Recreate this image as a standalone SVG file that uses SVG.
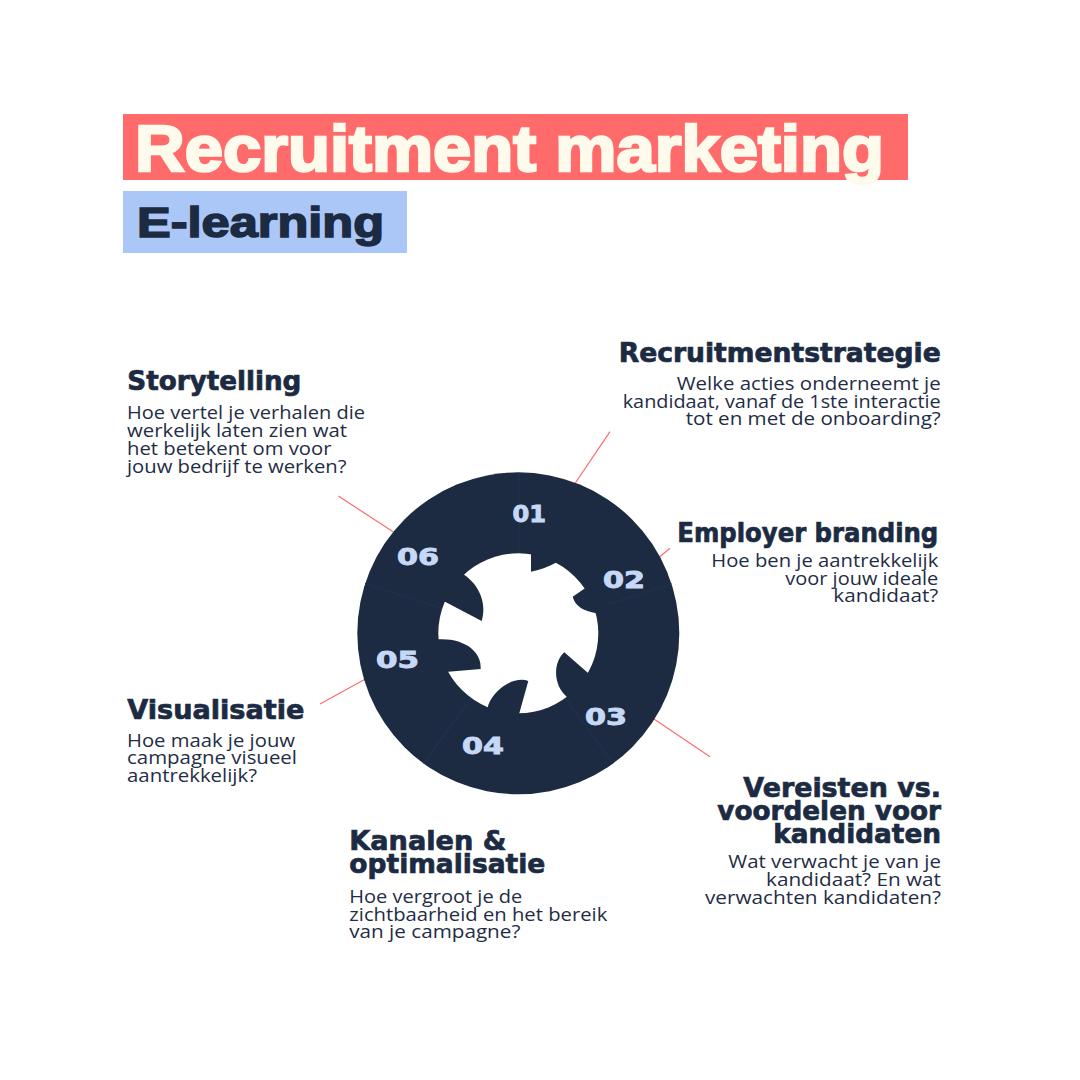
<svg xmlns="http://www.w3.org/2000/svg" width="1080" height="1080" viewBox="0 0 1080 1080">
<style>
.title{font-family:"Liberation Sans",Arial,sans-serif;font-weight:bold;}
.head{font-family:"DejaVu Sans",sans-serif;font-weight:bold;font-size:26px;fill:#1c2b42;stroke:#1c2b42;stroke-width:0.7px;}
.body{font-family:"Open Sans","Noto Sans",sans-serif;font-weight:400;font-size:17.5px;fill:#1f2d45;}
.num{font-family:"DejaVu Sans",sans-serif;font-weight:bold;font-size:23px;fill:#c6d8f6;stroke:#c6d8f6;stroke-width:0.9px;text-anchor:middle;}
.conn{stroke:#ff6b6b;stroke-width:1.2;fill:none;}
.div{stroke:#222f48;stroke-width:1.5;}
.end{text-anchor:end;}
</style>
<rect width="1080" height="1080" fill="#ffffff"/>

<g id="title">
<rect x="123" y="114" width="785" height="66" fill="#ff6b6b"/>
<text class="title" x="135" y="171" font-size="65" fill="#fffbec" stroke="#fffbec" stroke-width="2.6" textLength="749" lengthAdjust="spacingAndGlyphs">Recruitment marketing</text>
</g>
<g id="subtitle">
<rect x="123" y="191" width="284" height="62" fill="#abc7f7"/>
<text class="title" x="137" y="237" font-size="43" fill="#1c2b42" stroke="#1c2b42" stroke-width="1.6" textLength="247" lengthAdjust="spacingAndGlyphs">E-learning</text>
</g>

<g id="connectors">
<line class="conn" x1="610" y1="431.7" x2="575" y2="483.5"/>
<line class="conn" x1="670" y1="548.3" x2="659.5" y2="557"/>
<line class="conn" x1="654" y1="719" x2="710" y2="756.7"/>
<line class="conn" x1="320" y1="704" x2="364.5" y2="679.5"/>
<line class="conn" x1="338.3" y1="496" x2="393" y2="531.7"/>
</g>

<g id="wheel">
<circle cx="518.3" cy="633.3" r="161" fill="#1c2b42"/>
<g class="div">
<line x1="519" y1="473" x2="519" y2="553.3"/>
<line x1="594.4" y1="608.6" x2="671.5" y2="583.6"/>
<line x1="565.3" y1="698" x2="612.9" y2="763.5"/>
<line x1="471.3" y1="698" x2="423.7" y2="763.5"/>
<line x1="442.2" y1="608.6" x2="365.1" y2="583.6"/>
</g>
<circle cx="518.3" cy="633.3" r="80" fill="#ffffff"/>
<g fill="#1c2b42">
<path d="M531,545 L531,571.7 Q545,569 556.7,562.3 L560,548 Z"/>
<path d="M585,588.3 L572.7,596.7 Q576,610 596.7,613.3 L610,610 L600,585 Z"/>
<path d="M588.3,673.3 L564.3,652.3 C553,662 553,685 566.7,696.7 L575,705 L600,680 Z"/>
<path d="M519.3,713.3 L528.3,681 C515,676 495,688 488.3,705 L485,720 L520,725 Z"/>
<path d="M448.3,671.7 L480.7,669 C482,652 465,638 438.3,639.3 L425,640 L435,680 Z"/>
<path d="M445,601.7 L481.7,621 C487,605 480,585 463.3,574.3 L455,565 L430,595 Z"/>
</g>
<text class="num" x="529.3" y="521.7" textLength="33.5" lengthAdjust="spacingAndGlyphs">01</text>
<text class="num" x="624" y="588" textLength="42" lengthAdjust="spacingAndGlyphs">02</text>
<text class="num" x="606" y="725" textLength="42" lengthAdjust="spacingAndGlyphs">03</text>
<text class="num" x="483" y="754" textLength="42" lengthAdjust="spacingAndGlyphs">04</text>
<text class="num" x="397.5" y="668" textLength="43" lengthAdjust="spacingAndGlyphs">05</text>
<text class="num" x="418" y="565" textLength="42" lengthAdjust="spacingAndGlyphs">06</text>
</g>

<g id="node-01">
<text class="head end" x="940.7" y="362" textLength="322" lengthAdjust="spacingAndGlyphs">Recruitmentstrategie</text>
<text class="body end" x="940.7" y="390" textLength="264" lengthAdjust="spacingAndGlyphs">Welke acties onderneemt je</text>
<text class="body end" x="940.7" y="407.5" textLength="318" lengthAdjust="spacingAndGlyphs">kandidaat, vanaf de 1ste interactie</text>
<text class="body end" x="940.7" y="425" textLength="255" lengthAdjust="spacingAndGlyphs">tot en met de onboarding?</text>
</g>

<g id="node-02">
<text class="head end" x="938.3" y="541.7" textLength="261" lengthAdjust="spacingAndGlyphs">Employer branding</text>
<text class="body end" x="938.3" y="567.3" textLength="227" lengthAdjust="spacingAndGlyphs">Hoe ben je aantrekkelijk</text>
<text class="body end" x="938.3" y="585" textLength="153" lengthAdjust="spacingAndGlyphs">voor jouw ideale</text>
<text class="body end" x="938.3" y="601.7" textLength="105" lengthAdjust="spacingAndGlyphs">kandidaat?</text>
</g>

<g id="node-03">
<text class="head end" x="941" y="796.7" textLength="197.7" lengthAdjust="spacingAndGlyphs">Vereisten vs.</text>
<text class="head end" x="941" y="820" textLength="223.7" lengthAdjust="spacingAndGlyphs">voordelen voor</text>
<text class="head end" x="941" y="843.3" textLength="167.7" lengthAdjust="spacingAndGlyphs">kandidaten</text>
<text class="body end" x="941" y="868.3" textLength="212.7" lengthAdjust="spacingAndGlyphs">Wat verwacht je van je</text>
<text class="body end" x="941" y="886" textLength="175" lengthAdjust="spacingAndGlyphs">kandidaat? En wat</text>
<text class="body end" x="941" y="904" textLength="236" lengthAdjust="spacingAndGlyphs">verwachten kandidaten?</text>
</g>

<g id="node-04">
<text class="head" x="349.3" y="850" textLength="157" lengthAdjust="spacingAndGlyphs">Kanalen &amp;</text>
<text class="head" x="349.3" y="872.7" textLength="196" lengthAdjust="spacingAndGlyphs">optimalisatie</text>
<text class="body" x="349.3" y="903.3" textLength="173" lengthAdjust="spacingAndGlyphs">Hoe vergroot je de</text>
<text class="body" x="349.3" y="920.7" textLength="258" lengthAdjust="spacingAndGlyphs">zichtbaarheid en het bereik</text>
<text class="body" x="349.3" y="938.3" textLength="171" lengthAdjust="spacingAndGlyphs">van je campagne?</text>
</g>

<g id="node-05">
<text class="head" x="127.3" y="719" textLength="177" lengthAdjust="spacingAndGlyphs">Visualisatie</text>
<text class="body" x="127" y="746.7" textLength="168" lengthAdjust="spacingAndGlyphs">Hoe maak je jouw</text>
<text class="body" x="127" y="764.3" textLength="170" lengthAdjust="spacingAndGlyphs">campagne visueel</text>
<text class="body" x="127" y="781.7" textLength="130" lengthAdjust="spacingAndGlyphs">aantrekkelijk?</text>
</g>

<g id="node-06">
<text class="head" x="127.3" y="390" textLength="174" lengthAdjust="spacingAndGlyphs">Storytelling</text>
<text class="body" x="127" y="419.3" textLength="238" lengthAdjust="spacingAndGlyphs">Hoe vertel je verhalen die</text>
<text class="body" x="127" y="437.3" textLength="220" lengthAdjust="spacingAndGlyphs">werkelijk laten zien wat</text>
<text class="body" x="127" y="455.3" textLength="204.5" lengthAdjust="spacingAndGlyphs">het betekent om voor</text>
<text class="body" x="127" y="472.7" textLength="219.5" lengthAdjust="spacingAndGlyphs">jouw bedrijf te werken?</text>
</g>
</svg>
